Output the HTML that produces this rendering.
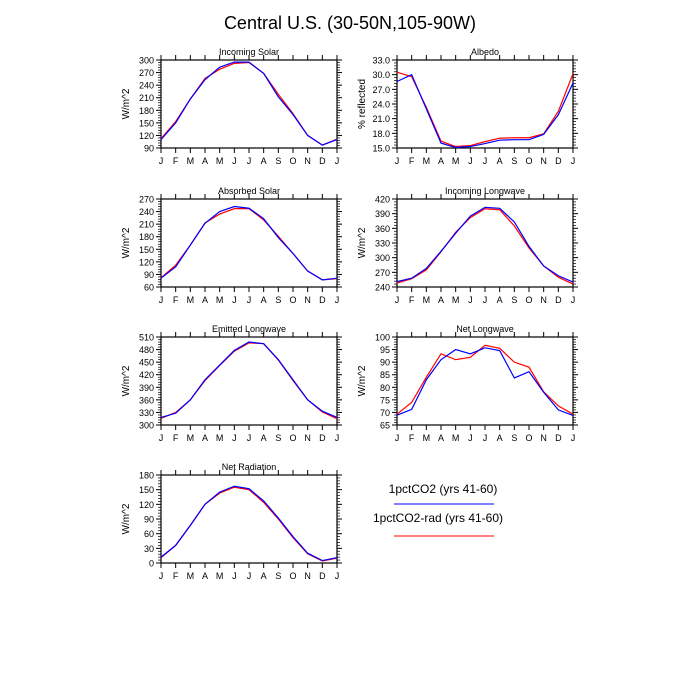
<!DOCTYPE html>
<html><head><meta charset="utf-8"><style>
body{margin:0;background:#fff}
svg{display:block;font-family:"Liberation Sans",sans-serif}
</style></head><body>
<svg id="c" width="700" height="700" viewBox="0 0 700 700">
<text x="350" y="29" font-size="18" text-anchor="middle">Central U.S. (30-50N,105-90W)</text>
<text x="443" y="493" font-size="12" text-anchor="middle">1pctCO2 (yrs 41-60)</text>
<line x1="394" y1="504" x2="494" y2="504" stroke="#00f" stroke-width="1"/>
<text x="438" y="522" font-size="12" text-anchor="middle">1pctCO2-rad (yrs 41-60)</text>
<line x1="394" y1="536" x2="494" y2="536" stroke="#f00" stroke-width="1"/>
</svg>
<script>
const months = ["J","F","M","A","M","J","J","A","S","O","N","D","J"];
const titles = ["Incoming Solar","Albedo","Absorbed Solar","Incoming Longwave","Emitted Longwave","Net Longwave","Net Radiation"];
const yTitles = ["W/m^2","% reflected","W/m^2","W/m^2","W/m^2","W/m^2","W/m^2"];
const yTicks = [
 [90,120,150,180,210,240,270,300],
 [15,18,21,24,27,30,33],
 [60,90,120,150,180,210,240,270],
 [240,270,300,330,360,390,420],
 [300,330,360,390,420,450,480,510],
 [65,70,75,80,85,90,95,100],
 [0,30,60,90,120,150,180]
];
const tickDecimals = [0,1,0,0,0,0,0];
const blueSeries = [
 [110,150,207,253,283,295,295,268,212,170,120,97,110],
 [28.6,30.0,23.0,16.0,15.1,15.3,15.9,16.6,16.7,16.7,17.8,21.8,28.3],
 [81,108,160,212,240,252,248,223,178,140,98,77,81],
 [251,258,278,313,350,385,403,401,373,323,283,263,250],
 [318,328,360,408,443,478,498,494,456,408,360,333,318],
 [68.9,71.2,83,91,95,93.3,95.7,94.6,83.7,86.2,78,71,68.8],
 [12,36,77,120,145,157,152,127,92,54,20,5,11]
];
const redSeries = [
 [112,153,207,256,278,292,294,268,218,172,120,97,111],
 [30.5,29.6,23.3,16.4,15.3,15.5,16.3,17.0,17.1,17.1,17.9,22.5,30.2],
 [82,112,160,213,234,247,247,220,181,140,98,77,80],
 [248,257,275,312,352,382,400,398,365,320,283,260,246],
 [316,330,360,406,442,476,496,494,455,406,360,331,315],
 [69.3,74,84,93.3,91,91.9,96.7,95.5,90,88,78.2,72.6,69.3],
 [11,36,77,120,143,155,150,124,90,52,19,4,10]
];
const NS="http://www.w3.org/2000/svg";
const svg=document.getElementById('c');
function mk(tag,attrs,parent){const e=document.createElementNS(NS,tag);for(const k in attrs)e.setAttribute(k,attrs[k]);(parent||svg).appendChild(e);return e;}
const W=176,H=88;
const lefts=[161,397], tops=[60,199,337,475];
for(let p=0;p<7;p++){
 const x0=lefts[p%2], y0=tops[Math.floor(p/2)];
 const g=mk('g',{});
 
 
 const tk=yTicks[p], ymin=tk[0], ymax=tk[tk.length-1];
 const xs=i=>x0+i*W/(months.length-1);
 const ys=v=>y0+H-(v-ymin)/(ymax-ymin)*H;
 const t=mk('text',{x:x0+W/2,y:y0-5,'font-size':9,'text-anchor':'middle'},g);t.textContent=titles[p];
 
 
 const yt=mk('text',{x:0,y:0,'font-size':10,'text-anchor':'middle',transform:`translate(${x0-32},${y0+H/2}) rotate(-90)`},g);yt.textContent=yTitles[p];
 
 
 for(let i=0;i<months.length;i++){
  const x=xs(i);
  mk('line',{x1:x,y1:y0+H,x2:x,y2:y0+H+5,stroke:'#000','stroke-width':1},g);
  mk('line',{x1:x,y1:y0,x2:x,y2:y0-5,stroke:'#000','stroke-width':1},g);
  const l=mk('text',{x:x,y:y0+H+16,'font-size':9,'text-anchor':'middle'},g);l.textContent=months[i];
  
  
 }
 for(let j=0;j<tk.length;j++){
  const y=ys(tk[j]);
  mk('line',{x1:x0-5,y1:y,x2:x0,y2:y,stroke:'#000','stroke-width':1},g);
  mk('line',{x1:x0+W,y1:y,x2:x0+W+5,y2:y,stroke:'#000','stroke-width':1},g);
  if(j<tk.length-1){
   for(let m=1;m<5;m++){const ym=ys(tk[j]+(tk[j+1]-tk[j])*m/5);
    mk('line',{x1:x0-3,y1:ym,x2:x0,y2:ym,stroke:'#000','stroke-width':0.7},g);
    mk('line',{x1:x0+W,y1:ym,x2:x0+W+3,y2:ym,stroke:'#000','stroke-width':0.7},g);}
  }
  const l=mk('text',{x:x0-7,y:y+3.5,'font-size':9,'text-anchor':'end'},g);l.textContent=tk[j].toFixed(tickDecimals[p]);
  
  
 }
 mk('rect',{x:x0,y:y0,width:W,height:H,fill:'none',stroke:'#000','stroke-width':1.2},g);
 const rl=mk('polyline',{points:redSeries[p].map((v,i)=>xs(i)+','+ys(v)).join(' '),fill:'none',stroke:'#f00','stroke-width':1.2},g);
 
 
 const bl=mk('polyline',{points:blueSeries[p].map((v,i)=>xs(i)+','+ys(v)).join(' '),fill:'none',stroke:'#00f','stroke-width':1.2},g);
 
 
}
</script>
</body></html>
